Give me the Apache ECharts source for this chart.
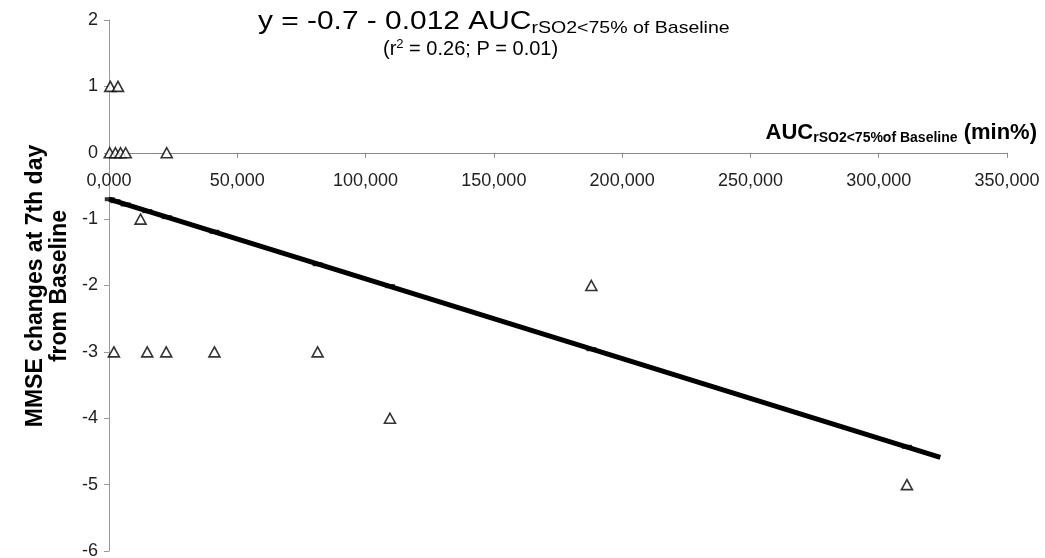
<!DOCTYPE html>
<html>
<head>
<meta charset="utf-8">
<script src="https://cdn.jsdelivr.net/npm/echarts@6/dist/echarts.min.js"></script>
<style>
html,body{margin:0;padding:0;background:#fff;}
#chart{width:1045px;height:558px;}
</style>
</head>
<body>
<div id="chart"></div>
<script>
// AUC rSO2<75% of baseline (min%) and MMSE change at day 7
var aucValues   = [0.5, 3.5, 0.3, 2.5, 4.5, 6.5, 22.5, 12.3, 1.9, 14.9, 22.3, 41.1, 81.3, 109.5, 188, 311];
var mmseChanges = [1, 1, 0, 0, 0, 0, 0, -1, -3, -3, -3, -3, -3, -4, -2, -5];
// predicted values on the regression line (small dash markers)
var predX = [0.3, 2.5, 6.5, 14.9, 22.5, 41.1, 81.3, 109.5, 188, 311];
var predY = [-0.70, -0.73, -0.78, -0.88, -0.97, -1.19, -1.68, -2.01, -2.96, -4.43];
// regression line end points
var trendX = [0, 324];
var trendY = [-0.7, -4.59];
var xTicks = [0, 50, 100, 150, 200, 250, 300, 350];
var yTicks = [-6, -5, -4, -3, -2, -1, 0, 1, 2];

var chart = echarts.init(document.getElementById('chart'));
var font = 'Liberation Sans, Arial, sans-serif';
var pts = aucValues.map(function(v,i){return [v, mmseChanges[i]];});
var pred = predX.map(function(v,i){return [v, predY[i]];});
var trend = trendX.map(function(v,i){return [v, trendY[i]];});

var gridTop = 20, gridBottom = 7, H = 558;
var gridH = H - gridTop - gridBottom;
var yMin = yTicks[0], yMax = yTicks[yTicks.length-1];
var zeroOffset = -gridH * (0 - yMin) / (yMax - yMin);

chart.setOption({
  animation:false,
  backgroundColor:'#fff',
  grid:{left:109, right:38, top:gridTop, bottom:gridBottom, outerBoundsMode:'none', containLabel:false},
  xAxis:{
    type:'value', min:xTicks[0], max:xTicks[xTicks.length-1], interval:50,
    position:'bottom', offset:zeroOffset,
    axisLine:{onZero:false, lineStyle:{color:'#888', width:1}},
    axisTick:{show:true, inside:false, length:5, lineStyle:{color:'#888'}},
    splitLine:{show:false},
    axisLabel:{margin:19, fontFamily:font, fontSize:18, color:'#222',
      formatter:function(v){return v.toFixed(3).replace('.', ',');}}
  },
  yAxis:{
    type:'value', min:yMin, max:yMax, interval:1,
    axisLine:{onZero:false, lineStyle:{color:'#999', width:1}},
    axisTick:{show:true, length:5, lineStyle:{color:'#999'}},
    splitLine:{show:false},
    axisLabel:{margin:11, fontFamily:font, fontSize:18, color:'#222'}
  },
  series:[
    {type:'line', data:trend, symbol:'none', lineStyle:{color:'#000', width:5}, z:2},
    {type:'scatter', data:pred, symbol:'rect', symbolSize:[10,4], itemStyle:{color:'#000'}, z:3},
    {type:'scatter', data:pts, symbol:'triangle', symbolSize:[11,10],
      itemStyle:{color:'#fff', borderColor:'#000', borderWidth:1.6}, z:4}
  ],
  graphic:[
    {type:'text', x:258, y:6, scaleX:1.15, style:{
      rich:{m:{fontSize:26, fontFamily:font, fill:'#000'}, s:{fontSize:17, fontFamily:font, fill:'#000', padding:[14,0,0,0]}},
      text:'{m|y = -0.7 - 0.012 AUC}{s|rSO2<75% of Baseline}'}},
    {type:'text', x:383, y:38, style:{
      rich:{m:{fontSize:20, fontFamily:font, fill:'#000'}, p:{fontSize:13, fontFamily:font, fill:'#000', padding:[0,0,10,0]}},
      text:'{m|(r}{p|2}{m| = 0.26; P = 0.01)}'}},
    {type:'text', x:1037, y:120, style:{
      align:'right',
      rich:{m:{fontSize:22, fontWeight:'bold', fontFamily:font, fill:'#000'}, s:{fontSize:14, fontWeight:'bold', fontFamily:font, fill:'#000', padding:[11,0,0,0]}},
      text:'{m|AUC}{s|rSO2<75%of Baseline}{m| (min%)}'}},
    {type:'text', x:48, y:286, rotation:Math.PI/2, style:{
      text:'MMSE changes at 7th day\nfrom Baseline', fontSize:23, fontWeight:'bold', fontFamily:font,
      fill:'#000', align:'center', verticalAlign:'middle', lineHeight:24}}
  ]
});
</script>
</body>
</html>
